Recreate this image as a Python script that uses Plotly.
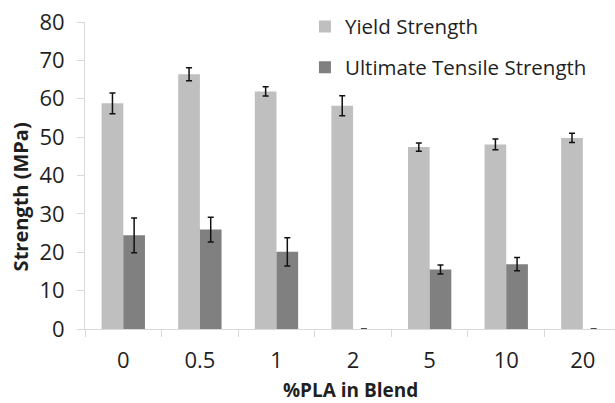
import plotly.graph_objects as go

# Strength of blends vs. PLA content
pla_labels = ["0", "0.5", "1", "2", "5", "10", "20"]
yield_strength = [58.8, 66.4, 61.9, 58.2, 47.4, 48.1, 49.8]
yield_err = [2.7, 1.7, 1.2, 2.6, 1.1, 1.4, 1.2]
uts = [24.4, 25.9, 20.1, 0, 15.5, 16.9, 0]
uts_err = [4.5, 3.2, 3.7, 0, 1.2, 1.7, 0]

FONT = "Open Sans"
TEXT = "#1f1f1f"
AXIS = "#d9d9d9"

fig = go.Figure()
fig.add_trace(go.Bar(
    x=pla_labels, y=yield_strength, name="Yield Strength",
    marker=dict(color="#bfbfbf", line=dict(width=0)),
    error_y=dict(type="data", array=yield_err, color="#111111", thickness=1.5, width=3),
    legendgroup="ys",
))
fig.add_trace(go.Bar(
    x=pla_labels, y=uts, name="Ultimate Tensile Strength",
    marker=dict(color="#808080", line=dict(width=0)),
    error_y=dict(type="data", array=uts_err, color="#111111", thickness=1.5, width=3),
    legendgroup="uts",
))

fig.update_layout(
    width=615, height=403,
    margin=dict(l=85, r=0, t=22, b=74),
    paper_bgcolor="white", plot_bgcolor="white",
    barmode="group", bargap=0.434, bargroupgap=0,
    font=dict(family=FONT, color=TEXT),
    showlegend=True,
    legend=dict(
        x=0.415, y=1.05, xanchor="left", yanchor="top",
        font=dict(size=20.5, color=TEXT, family=FONT),
        tracegroupgap=11, bgcolor="rgba(0,0,0,0)",
    ),
    xaxis=dict(
        type="category", range=[-0.5, 6.42],
        showline=True, linecolor=AXIS, linewidth=1,
        ticks="outside", tickson="boundaries", ticklen=7, tickcolor=AXIS,
        showgrid=False, zeroline=False,
        tickfont=dict(size=22, color=TEXT, family=FONT),
        ticklabelstandoff=12,
    ),
    yaxis=dict(
        range=[0, 80], dtick=10,
        showline=True, linecolor=AXIS, linewidth=1,
        ticks="outside", ticklen=7, tickcolor=AXIS,
        showgrid=False, zeroline=False,
        tickfont=dict(size=22, color=TEXT, family=FONT),
        ticklabelstandoff=8,
    ),
    annotations=[
        dict(text="<b>Strength (MPa)</b>", textangle=-90,
             xref="paper", yref="paper", x=-0.12, y=0.43,
             xanchor="center", yanchor="middle", showarrow=False,
             font=dict(size=20, color=TEXT, family=FONT)),
        dict(text="<b>%PLA in Blend</b>",
             xref="paper", yref="paper", x=0.5, y=-0.198,
             xanchor="center", yanchor="middle", showarrow=False,
             font=dict(size=19, color=TEXT, family=FONT)),
    ],
)

fig.write_html("out.html")
